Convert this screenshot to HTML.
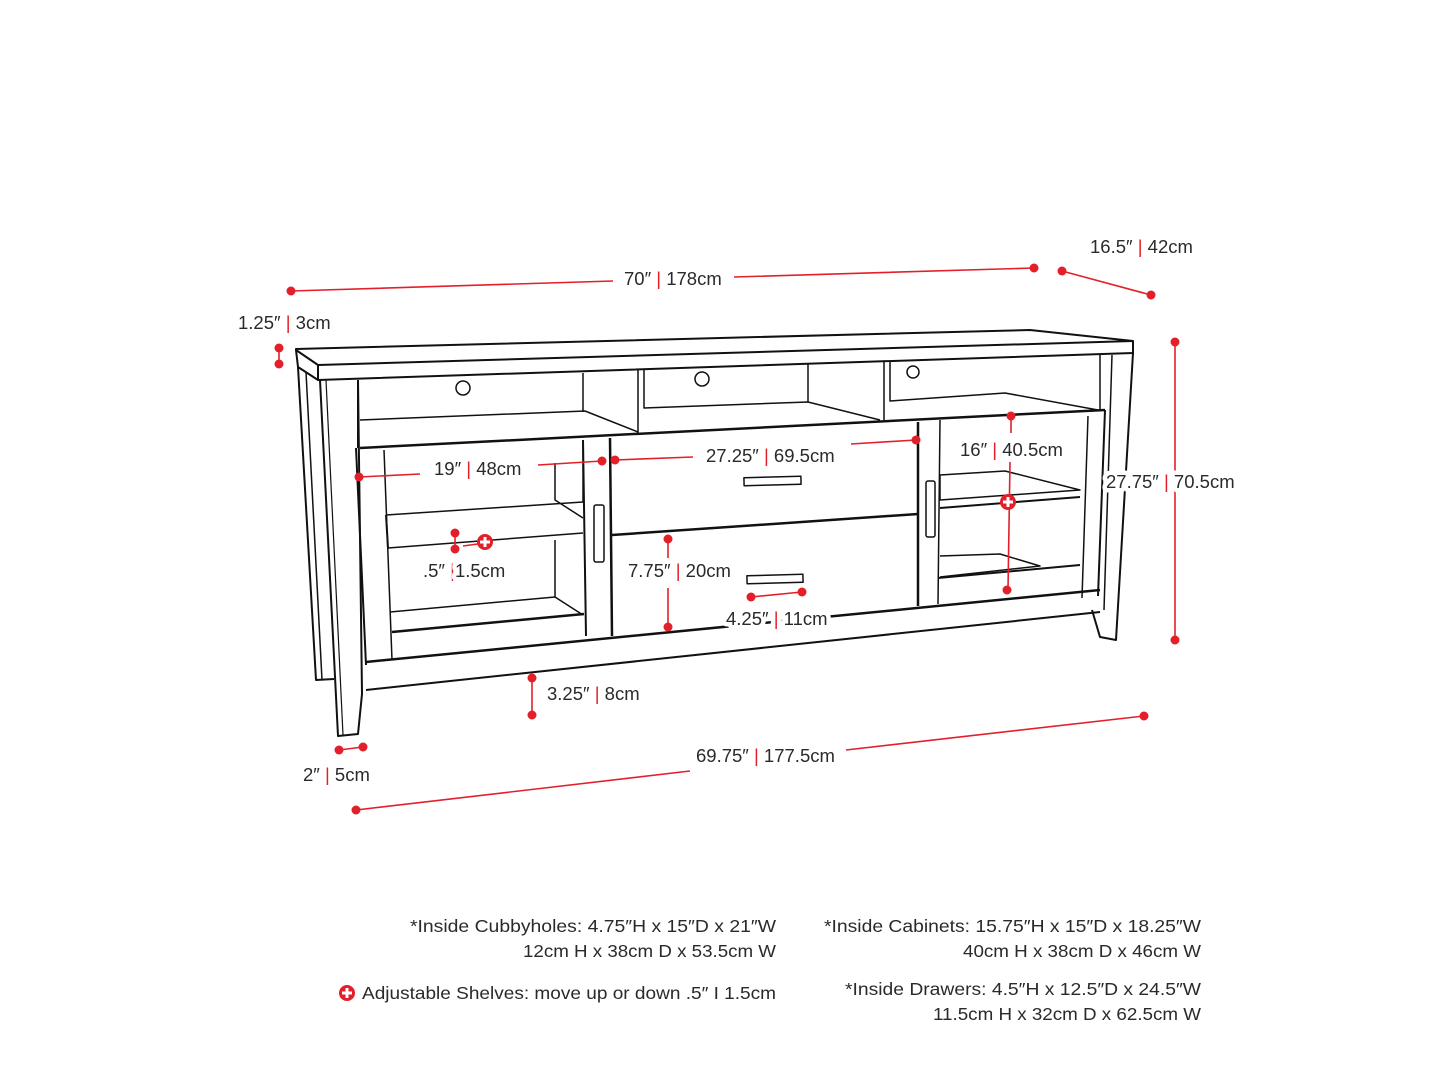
<!DOCTYPE html>
<html><head><meta charset="utf-8"><style>
html,body{margin:0;padding:0;background:#fff;}
svg{display:block;}
text{font-family:"Liberation Sans",sans-serif;fill:#2a2a2a;}
.lbl text{stroke:#fff;stroke-width:9px;paint-order:stroke;stroke-linejoin:round;}
</style></head><body>
<svg width="1445" height="1084" viewBox="0 0 1445 1084" xmlns="http://www.w3.org/2000/svg">
<g fill="none" stroke="#111" stroke-width="2" stroke-linejoin="round">
<path d="M296,349 L1030,330 L1133,341 L1133,353 L318,380 L318,365 L296,350 Z"/>
<path d="M318,365 L1133,341"/>
<path d="M296,350 L298,367 L318,380"/>
<path d="M298,367 L316,680 L334,679"/>
<path d="M306,372 L322,680" stroke-width="1.5"/>
<path d="M320,380 L338,736 L358,734 L362,694 L358,380"/>
<path d="M326,380 L343,735" stroke-width="1.2"/>
<path d="M1133,353 L1116,640 L1100,637 L1092,610"/>
<path d="M1112,355 L1104,610" stroke-width="1.5"/>
<path d="M1100,355 L1100,410" stroke-width="1.5"/>
<path d="M358,380 L358,448" />
<path d="M360,420 L585,411 L638,432" stroke-width="1.5"/>
<path d="M360,448 L1105,410" stroke-width="2.5"/>
<path d="M583,373 L583,412" stroke-width="1.5"/>
<path d="M638,370 L638,433" stroke-width="1.5"/>
<path d="M644,370 L644,408 L808,402 L880,420" stroke-width="1.5"/>
<path d="M808,364 L808,402" stroke-width="1.5"/>
<path d="M884,362 L884,420" stroke-width="1.5"/>
<path d="M890,362 L890,401 L1005,393 L1098,410" stroke-width="1.5"/>
<circle cx="463" cy="388" r="7" stroke-width="1.5"/>
<circle cx="702" cy="379" r="7" stroke-width="1.5"/>
<circle cx="913" cy="372" r="6" stroke-width="1.5"/>
<path d="M356,448 L366,665"/>
<path d="M366,662 L1100,590" stroke-width="2.5"/>
<path d="M366,690 L1100,612"/>
<path d="M384,450 L392,660" stroke-width="1.5"/>
<path d="M386,515 L583,502 L583,444" stroke-width="1.5"/>
<path d="M388,548 L583,533" stroke-width="1.5"/>
<path d="M386,515 L388,548"/>
<path d="M555,463 L555,500 L583,518" stroke-width="1.5"/>
<path d="M390,612 L555,597 L583,615" stroke-width="1.5"/>
<path d="M392,632 L584,614" stroke-width="2.5"/>
<path d="M555,540 L555,597" stroke-width="1.5"/>
<path d="M583,440 L586,636"/>
<path d="M610,438 L612,636" stroke-width="2.5"/>
<rect x="594" y="505" width="10" height="57" rx="2" stroke-width="1.5"/>
<path d="M612,535 L918,514" stroke-width="2.5"/>
<rect x="744" y="477" width="57" height="8" transform="rotate(-1.5 772 481)" stroke-width="1.5"/>
<rect x="747" y="575" width="56" height="8" transform="rotate(-1.5 775 579)" stroke-width="1.5"/>
<path d="M918,422 L918,606" stroke-width="2.5"/>
<path d="M940,420 L938,604" stroke-width="1.5"/>
<path d="M1088,416 L1082,598" stroke-width="1.5"/>
<path d="M1105,410 L1098,596"/>
<path d="M940,475 L1005,471 L1080,490 L940,500 Z" stroke-width="1.5"/>
<path d="M940,508 L1080,497"/>
<path d="M940,556 L1000,554 L1040,566 L940,577" stroke-width="1.5"/>
<path d="M938,578 L1080,565" stroke-width="2"/>
<rect x="926" y="481" width="9" height="56" rx="2" stroke-width="1.5"/>
</g>
<g stroke="#e3202a" stroke-width="1.6" fill="none">
<path d="M291,291 L613,281 M734,277 L1034,268"/>
<path d="M1062,271 L1151,295"/>
<path d="M279,348 L279,364"/>
<path d="M1175,342 L1175,640"/>
<path d="M359,477 L420,474 M538,465 L602,461"/>
<path d="M615,460 L693,457 M851,444 L916,440"/>
<path d="M1011,416 L1011,433 M1010,462 L1008,590"/>
<path d="M455,533 L455,549 M463,546 L485,543"/>
<path d="M668,539 L668,558 M668,588 L668,627"/>
<path d="M751,597 L802,592"/>
<path d="M532,678 L532,715"/>
<path d="M339,750 L363,747"/>
<path d="M356,810 L690,771 M846,750 L1144,716"/>
</g>
<g fill="#e3202a">
<circle cx="291" cy="291" r="4.5"/><circle cx="1034" cy="268" r="4.5"/>
<circle cx="1062" cy="271" r="4.5"/><circle cx="1151" cy="295" r="4.5"/>
<circle cx="279" cy="348" r="4.5"/><circle cx="279" cy="364" r="4.5"/>
<circle cx="1175" cy="342" r="4.5"/><circle cx="1175" cy="640" r="4.5"/>
<circle cx="359" cy="477" r="4.5"/><circle cx="602" cy="461" r="4.5"/>
<circle cx="615" cy="460" r="4.5"/><circle cx="916" cy="440" r="4.5"/>
<circle cx="1011" cy="416" r="4.5"/><circle cx="1007" cy="590" r="4.5"/>
<circle cx="455" cy="533" r="4.5"/><circle cx="455" cy="549" r="4.5"/>
<circle cx="668" cy="539" r="4.5"/><circle cx="668" cy="627" r="4.5"/>
<circle cx="751" cy="597" r="4.5"/><circle cx="802" cy="592" r="4.5"/>
<circle cx="532" cy="678" r="4.5"/><circle cx="532" cy="715" r="4.5"/>
<circle cx="339" cy="750" r="4.5"/><circle cx="363" cy="747" r="4.5"/>
<circle cx="356" cy="810" r="4.5"/><circle cx="1144" cy="716" r="4.5"/>
<circle cx="485" cy="542" r="8"/><circle cx="1008" cy="502" r="8"/>
<circle cx="347" cy="993" r="8"/>
</g>
<g stroke="#fff" stroke-width="3">
<path d="M480,542 L490,542 M485,537 L485,547"/>
<path d="M1003,502 L1013,502 M1008,497 L1008,507"/>
<path d="M342,993 L352,993 M347,988 L347,998"/>
</g>
<g font-size="18.5" class="lbl">
<text x="624" y="285">70″ <tspan fill="#e3202a">|</tspan> 178cm</text>
<text x="1090" y="253">16.5″ <tspan fill="#e3202a">|</tspan> 42cm</text>
<text x="238" y="329">1.25″ <tspan fill="#e3202a">|</tspan> 3cm</text>
<text x="1106" y="488">27.75″ <tspan fill="#e3202a">|</tspan> 70.5cm</text>
<text x="434" y="475">19″ <tspan fill="#e3202a">|</tspan> 48cm</text>
<text x="706" y="462">27.25″ <tspan fill="#e3202a">|</tspan> 69.5cm</text>
<text x="960" y="456">16″ <tspan fill="#e3202a">|</tspan> 40.5cm</text>
<text x="423" y="577">.5″ <tspan fill="#e3202a">|</tspan>1.5cm</text>
<text x="628" y="577">7.75″ <tspan fill="#e3202a">|</tspan> 20cm</text>
<text x="726" y="625">4.25″ <tspan fill="#e3202a">|</tspan> 11cm</text>
<text x="547" y="700">3.25″ <tspan fill="#e3202a">|</tspan> 8cm</text>
<text x="303" y="781">2″ <tspan fill="#e3202a">|</tspan> 5cm</text>
<text x="696" y="762">69.75″ <tspan fill="#e3202a">|</tspan> 177.5cm</text>
</g>
<g font-size="17.5" text-anchor="end">
<text x="776" y="932" textLength="366" lengthAdjust="spacingAndGlyphs">*Inside Cubbyholes: 4.75″H x 15″D x 21″W</text>
<text x="776" y="957" textLength="253" lengthAdjust="spacingAndGlyphs">12cm H x 38cm D x 53.5cm W</text>
<text x="776" y="999" textLength="414" lengthAdjust="spacingAndGlyphs">Adjustable Shelves: move up or down .5″ I 1.5cm</text>
<text x="1201" y="932" textLength="377" lengthAdjust="spacingAndGlyphs">*Inside Cabinets: 15.75″H x 15″D x 18.25″W</text>
<text x="1201" y="957" textLength="238" lengthAdjust="spacingAndGlyphs">40cm H x 38cm D x 46cm W</text>
<text x="1201" y="995" textLength="356" lengthAdjust="spacingAndGlyphs">*Inside Drawers: 4.5″H x 12.5″D x 24.5″W</text>
<text x="1201" y="1020" textLength="268" lengthAdjust="spacingAndGlyphs">11.5cm H x 32cm D x 62.5cm W</text>
</g>
</svg>
</body></html>
